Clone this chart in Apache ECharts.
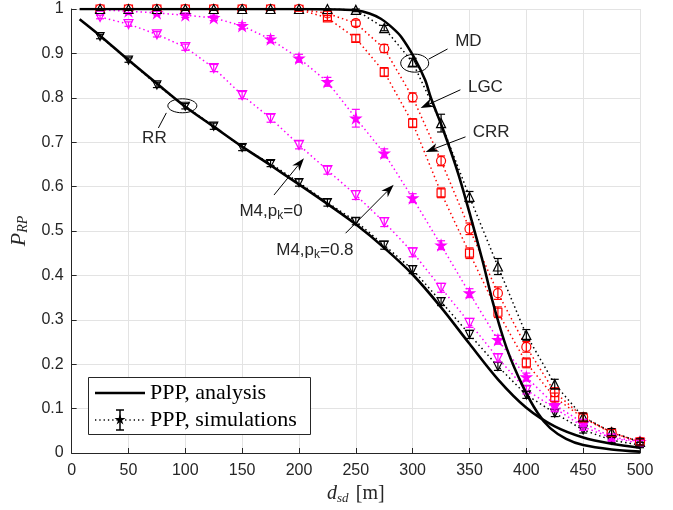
<!DOCTYPE html>
<html>
<head>
<meta charset="utf-8">
<script src="https://cdn.jsdelivr.net/npm/echarts@6/dist/echarts.min.js"></script>
<style>
  html, body { margin: 0; padding: 0; background: #fff; }
  #main { width: 673px; height: 510px; }
</style>
</head>
<body>
<div id="main"></div>
<script>
// distance d_sd [m] where simulations were run
var xSim = [25, 50, 75, 100, 125, 150, 175, 200, 225, 250, 275, 300, 325, 350, 375, 400, 425, 450, 475, 500];

// simulation results (dotted lines + markers)
var rrSim   = [0.938, 0.885, 0.829, 0.781, 0.736, 0.688, 0.652, 0.609, 0.564, 0.522, 0.468, 0.413, 0.341, 0.267, 0.195, 0.131, 0.090, 0.052, 0.029, 0.018];
var m4p0Sim = [0.982, 0.966, 0.943, 0.914, 0.867, 0.806, 0.754, 0.694, 0.637, 0.581, 0.520, 0.452, 0.372, 0.293, 0.214, 0.142, 0.101, 0.059, 0.034, 0.022];
var m4p8Sim = [0.998, 0.995, 0.991, 0.986, 0.980, 0.962, 0.932, 0.889, 0.836, 0.754, 0.675, 0.574, 0.468, 0.360, 0.255, 0.171, 0.108, 0.068, 0.036, 0.025];
var crrSim  = [1.000, 1.000, 1.000, 1.000, 1.000, 1.000, 1.000, 0.999, 0.980, 0.934, 0.858, 0.743, 0.586, 0.450, 0.317, 0.203, 0.125, 0.079, 0.045, 0.025];
var lgcSim  = [1.000, 1.000, 1.000, 1.000, 1.000, 1.000, 1.000, 1.000, 0.990, 0.968, 0.911, 0.801, 0.658, 0.505, 0.360, 0.239, 0.137, 0.081, 0.046, 0.025];
var mdSim   = [1.000, 1.000, 1.000, 1.000, 1.000, 1.000, 1.000, 1.000, 1.000, 0.998, 0.957, 0.880, 0.743, 0.577, 0.420, 0.266, 0.155, 0.081, 0.047, 0.025];

// half-width of the error bars
var rrErr   = [0.005, 0.005, 0.006, 0.006, 0.007, 0.007, 0.007, 0.008, 0.008, 0.008, 0.009, 0.009, 0.009, 0.009, 0.009, 0.008, 0.008, 0.007, 0.006, 0.006];
var m4p0Err = [0.004, 0.005, 0.006, 0.007, 0.008, 0.008, 0.009, 0.009, 0.009, 0.010, 0.010, 0.010, 0.010, 0.010, 0.009, 0.009, 0.008, 0.008, 0.007, 0.006];
var m4p8Err = [0.003, 0.003, 0.004, 0.005, 0.006, 0.007, 0.008, 0.009, 0.010, 0.020, 0.010, 0.010, 0.010, 0.010, 0.010, 0.009, 0.009, 0.008, 0.007, 0.006];
var crrErr  = [0.003, 0.003, 0.003, 0.003, 0.003, 0.003, 0.003, 0.004, 0.006, 0.008, 0.010, 0.010, 0.011, 0.012, 0.012, 0.011, 0.010, 0.009, 0.008, 0.007];
var lgcErr  = [0.003, 0.003, 0.003, 0.003, 0.003, 0.003, 0.003, 0.003, 0.005, 0.007, 0.009, 0.010, 0.011, 0.013, 0.014, 0.012, 0.010, 0.009, 0.008, 0.007];
var mdErr   = [0.003, 0.003, 0.003, 0.003, 0.003, 0.003, 0.003, 0.003, 0.003, 0.004, 0.006, 0.009, 0.020, 0.012, 0.018, 0.012, 0.011, 0.009, 0.008, 0.007];

// analytical curves (solid black)
var rrAnaX = [7, 25, 50, 75, 100, 125, 150, 175, 200, 225, 250, 275, 300, 325, 350, 375, 400, 425, 450, 475, 500];
var rrAnaY = [0.977, 0.940, 0.885, 0.832, 0.780, 0.735, 0.690, 0.648, 0.605, 0.561, 0.515, 0.462, 0.402, 0.328, 0.246, 0.166, 0.102, 0.060, 0.035, 0.021, 0.012];
var mdAnaX = [7, 100, 200, 235, 250, 262, 272, 282, 290, 301, 311, 316, 327, 340, 351, 362, 371, 383, 397, 410, 421, 435, 450, 475, 500];
var mdAnaY = [1.000, 1.000, 1.000, 0.999, 0.997, 0.990, 0.978, 0.958, 0.937, 0.892, 0.840, 0.800, 0.727, 0.630, 0.532, 0.428, 0.335, 0.234, 0.150, 0.090, 0.056, 0.032, 0.018, 0.008, 0.003];

var xTicks = [0, 50, 100, 150, 200, 250, 300, 350, 400, 450, 500];
var yTicks = [0, 0.1, 0.2, 0.3, 0.4, 0.5, 0.6, 0.7, 0.8, 0.9, 1];

var BLACK = '#000000', MAGENTA = '#ff00ff', RED = '#ff0000';
var STAR = 'path://M100 0 L122 69 L195 69 L136 112 L159 181 L100 138 L41 181 L64 112 L5 69 L78 69 Z';

function pairs(xs, ys) {
  return xs.map(function (x, i) { return [x, ys[i]]; });
}
function errData(ys, es) {
  return xSim.map(function (x, i) { return [x, Math.max(0, ys[i] - es[i]), Math.min(1, ys[i] + es[i])]; });
}

function errRender(params, api) {
  var x = api.value(0);
  var p1 = api.coord([x, api.value(1)]);
  var p2 = api.coord([x, api.value(2)]);
  var w = 4;
  var st = { stroke: api.visual('color'), lineWidth: 1.2 };
  return {
    type: 'group',
    children: [
      { type: 'line', shape: { x1: p1[0], y1: p1[1], x2: p2[0], y2: p2[1] }, style: st },
      { type: 'line', shape: { x1: p1[0] - w, y1: p1[1], x2: p1[0] + w, y2: p1[1] }, style: st },
      { type: 'line', shape: { x1: p2[0] - w, y1: p2[1], x2: p2[0] + w, y2: p2[1] }, style: st }
    ]
  };
}

function simSeries(ys, color, symbol, rotate, size, filled) {
  return {
    type: 'line',
    data: pairs(xSim, ys),
    symbol: symbol,
    symbolRotate: rotate,
    symbolSize: size,
    showAllSymbol: true,
    lineStyle: { color: color, width: 1.5, type: [1.5, 3] },
    itemStyle: { color: filled ? color : '#ffffff', borderColor: color, borderWidth: 1.2 },
    z: 3
  };
}
function errSeries(ys, es, color) {
  return {
    type: 'custom',
    data: errData(ys, es),
    renderItem: errRender,
    itemStyle: { color: color },
    encode: { x: 0, y: [1, 2] },
    z: 4
  };
}

var chart = echarts.init(document.getElementById('main'));
var axisFont = { fontFamily: 'Liberation Sans', fontSize: 16, color: '#262626' };

var option = {
  animation: false,
  backgroundColor: '#ffffff',
  grid: { left: 70, right: 33, top: 9, bottom: 57 },
  xAxis: {
    type: 'value', min: 0, max: 500, interval: 50,
    axisLine: { lineStyle: { color: '#262626', width: 1 } },
    axisTick: { inside: true, length: 5, lineStyle: { color: '#262626' } },
    axisLabel: Object.assign({ margin: 10, formatter: function (v) { return xTicks.indexOf(v) >= 0 ? String(v) : ''; } }, axisFont),
    splitLine: { show: true, lineStyle: { color: '#e3e3e3', width: 1 } },
    name: '{i|d}{s|sd} {n|[m]}',
    nameLocation: 'middle',
    nameGap: 30,
    nameTextStyle: {
      rich: {
        i: { fontFamily: 'Liberation Serif', fontStyle: 'italic', fontSize: 20, color: '#262626' },
        s: { fontFamily: 'Liberation Serif', fontStyle: 'italic', fontSize: 13, color: '#262626', padding: [9, 0, 0, 0] },
        n: { fontFamily: 'Liberation Serif', fontSize: 20, color: '#262626', padding: [0, 0, 0, 4] }
      }
    }
  },
  yAxis: {
    type: 'value', min: 0, max: 1, interval: 0.1,
    axisLine: { show: true, lineStyle: { color: '#262626', width: 1 } },
    axisTick: { show: true, inside: true, length: 5, lineStyle: { color: '#262626' } },
    axisLabel: Object.assign({ margin: 8, formatter: function (v) {
      var r = Math.round(v * 10) / 10;
      return yTicks.indexOf(r) >= 0 ? String(r) : '';
    } }, axisFont),
    splitLine: { show: true, lineStyle: { color: '#e3e3e3', width: 1 } },
    name: '{i|P}{s|RP}',
    nameLocation: 'middle',
    nameGap: 35,
    nameRotate: 90,
    nameTextStyle: {
      rich: {
        i: { fontFamily: 'Liberation Serif', fontStyle: 'italic', fontSize: 22, color: '#262626' },
        s: { fontFamily: 'Liberation Serif', fontStyle: 'italic', fontSize: 14, color: '#262626', padding: [9, 0, 0, 0] }
      }
    }
  },
  series: [
    simSeries(rrSim, BLACK, 'triangle', 180, 8, false),
    simSeries(m4p0Sim, MAGENTA, 'triangle', 180, 9, false),
    simSeries(m4p8Sim, MAGENTA, STAR, 0, 10, true),
    simSeries(crrSim, RED, 'rect', 0, 8, false),
    simSeries(lgcSim, RED, 'circle', 0, 9, false),
    simSeries(mdSim, BLACK, 'triangle', 0, 9, false),
    errSeries(rrSim, rrErr, BLACK),
    errSeries(m4p0Sim, m4p0Err, MAGENTA),
    errSeries(m4p8Sim, m4p8Err, MAGENTA),
    errSeries(crrSim, crrErr, RED),
    errSeries(lgcSim, lgcErr, RED),
    errSeries(mdSim, mdErr, BLACK),
    {
      type: 'line', data: pairs(rrAnaX, rrAnaY), symbol: 'none', smooth: 0.3,
      lineStyle: { color: BLACK, width: 2.6 }, z: 5
    },
    {
      type: 'line', data: pairs(mdAnaX, mdAnaY), symbol: 'none', smooth: 0.3,
      lineStyle: { color: BLACK, width: 2.6 }, z: 5
    }
  ]
};
chart.setOption(option);

// annotations placed in data coordinates
function px(p) { return chart.convertToPixel({ gridIndex: 0 }, p); }
var annFont = { fontFamily: 'Liberation Sans', fontSize: 17, fill: '#262626' };

function ellipse(c, rx, ry) {
  var p = px(c);
  return { type: 'ellipse', shape: { cx: p[0], cy: p[1], rx: rx, ry: ry }, style: { fill: null, stroke: '#000', lineWidth: 1 }, z: 20 };
}
function segment(a, b) {
  var p = px(a), q = px(b);
  return { type: 'line', shape: { x1: p[0], y1: p[1], x2: q[0], y2: q[1] }, style: { stroke: '#000', lineWidth: 1 }, z: 20 };
}
function arrow(tail, head) {
  var p = px(tail), q = px(head);
  var dx = q[0] - p[0], dy = q[1] - p[1], L = Math.sqrt(dx * dx + dy * dy);
  var ux = dx / L, uy = dy / L, len = 13, hw = 4.5;
  var bx = q[0] - ux * len, by = q[1] - uy * len;
  var mx = q[0] - ux * len * 0.7, my = q[1] - uy * len * 0.7;
  return [
    { type: 'line', shape: { x1: p[0], y1: p[1], x2: mx, y2: my }, style: { stroke: '#000', lineWidth: 1 }, z: 20 },
    { type: 'polygon', shape: { points: [[q[0], q[1]], [bx - uy * hw, by + ux * hw], [mx, my], [bx + uy * hw, by - ux * hw]] }, style: { fill: '#000' }, z: 20 }
  ];
}
function label(pos, text, rich) {
  var p = px(pos);
  var st = Object.assign({ text: text, align: 'center', verticalAlign: 'middle' }, annFont);
  if (rich) st.rich = rich;
  return { type: 'text', x: p[0], y: p[1], style: st, z: 21 };
}
var subRich = {
  m: { fontFamily: 'Liberation Sans', fontSize: 17, fill: '#262626' },
  k: { fontFamily: 'Liberation Sans', fontSize: 12, fill: '#262626', padding: [10, 0, 0, 0] }
};

var graphics = [];
graphics.push(ellipse([301.8, 0.878], 14, 9));
graphics.push(segment([314, 0.887], [330.7, 0.910]));
graphics.push(label([349, 0.927], 'MD'));
graphics = graphics.concat(arrow([342, 0.818], [307, 0.777]));
graphics.push(label([364, 0.824], 'LGC'));
graphics = graphics.concat(arrow([346.5, 0.712], [311.4, 0.678]));
graphics.push(label([369, 0.723], 'CRR'));
graphics.push(ellipse([97.4, 0.782], 14.5, 7));
graphics.push(segment([83.3, 0.766], [76.3, 0.732]));
graphics.push(label([72.8, 0.708], 'RR'));
graphics = graphics.concat(arrow([178, 0.581], [204.4, 0.664]));
graphics.push(label([175.4, 0.545], '{m|M4,p}{k|k}{m|=0}', subRich));
graphics = graphics.concat(arrow([241, 0.495], [283.3, 0.604]));
graphics.push(label([214, 0.457], '{m|M4,p}{k|k}{m|=0.8}', subRich));

// legend box (pixel layout, like the MATLAB legend)
var legFont = { fontFamily: 'Liberation Serif', fontSize: 22, fill: '#000' };
graphics.push({ type: 'rect', shape: { x: 88.5, y: 377.5, width: 222, height: 57 }, style: { fill: '#fff', stroke: '#262626', lineWidth: 1 }, z: 30 });
graphics.push({ type: 'line', shape: { x1: 95, y1: 393, x2: 145, y2: 393 }, style: { stroke: '#000', lineWidth: 2.6 }, z: 31 });
graphics.push({ type: 'text', x: 150, y: 393, style: Object.assign({ text: 'PPP, analysis', verticalAlign: 'middle' }, legFont), z: 31 });
graphics.push({ type: 'line', shape: { x1: 95, y1: 420, x2: 145, y2: 420 }, style: { stroke: '#000', lineWidth: 1.3, lineDash: [1.3, 3] }, z: 31 });
graphics.push({ type: 'line', shape: { x1: 120, y1: 410, x2: 120, y2: 430 }, style: { stroke: '#000', lineWidth: 1.5 }, z: 31 });
graphics.push({ type: 'line', shape: { x1: 116, y1: 410, x2: 124, y2: 410 }, style: { stroke: '#000', lineWidth: 1.5 }, z: 31 });
graphics.push({ type: 'line', shape: { x1: 116, y1: 430, x2: 124, y2: 430 }, style: { stroke: '#000', lineWidth: 1.5 }, z: 31 });
graphics.push({ type: 'polygon', shape: { points: [[120, 414], [121.3, 418], [125.5, 418], [122, 420.5], [123.4, 424.5], [120, 422], [116.6, 424.5], [118, 420.5], [114.5, 418], [118.7, 418]] }, style: { fill: '#000' }, z: 31 });
graphics.push({ type: 'text', x: 150, y: 420, style: Object.assign({ text: 'PPP, simulations', verticalAlign: 'middle' }, legFont), z: 31 });

chart.setOption({ graphic: graphics });
</script>
</body>
</html>
